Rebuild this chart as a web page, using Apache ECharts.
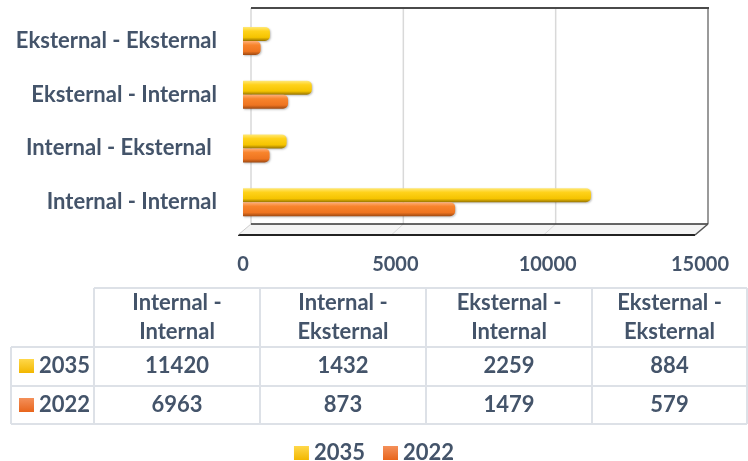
<!DOCTYPE html>
<html>
<head>
<meta charset="utf-8">
<script src="https://cdn.jsdelivr.net/npm/echarts@6/dist/echarts.min.js"></script>
<style>
  html, body { margin: 0; padding: 0; background: #fff; }
  #chart { width: 748px; height: 461px; }
</style>
</head>
<body>
<div id="chart"></div>
<script>
// data
const categories = ['Internal - Internal', 'Internal - Eksternal ', 'Eksternal - Internal', 'Eksternal - Eksternal']
const years = ['2035', '2022']
const values2035 = [11420, 1432, 2259, 884]
const values2022 = [6963, 873, 1479, 579]
const axisMax = 15000
const axisStep = 5000

const textColor = '#44546A'
const font = 'Lato, "Noto Sans", sans-serif'
const lineColor = '#DDE1E7'

// cylinder-ish gradients
const grad = (stops) => new echarts.graphic.LinearGradient(0, 0, 0, 1, stops)
const yellow = grad([
  { offset: 0, color: '#FFE97A' },
  { offset: 0.3, color: '#FFD21A' },
  { offset: 0.75, color: '#F5C400' },
  { offset: 1, color: '#9A7600' },
])
const orange = grad([
  { offset: 0, color: '#FFB07A' },
  { offset: 0.3, color: '#F8842C' },
  { offset: 0.75, color: '#EE7420' },
  { offset: 1, color: '#A04A12' },
])
const yellowKey = grad([{ offset: 0, color: '#FFD84A' }, { offset: 1, color: '#F2B700' }])
const orangeKey = grad([{ offset: 0, color: '#F4905A' }, { offset: 1, color: '#E8651C' }])

const chart = echarts.init(document.getElementById('chart'))

const barSeries = (name, data, color) => ({
  name: name,
  type: 'bar',
  data: data,
  barWidth: 14,
  barGap: '0%',
  itemStyle: {
    color: color,
    borderRadius: [0, 5, 5, 0],
    shadowColor: 'rgba(0,0,0,0.25)',
    shadowBlur: 2,
    shadowOffsetX: 1,
    shadowOffsetY: 1,
  },
  z: 3,
})

chart.setOption({
  animation: false,
  textStyle: { fontFamily: font },
  grid: { left: 243, right: 48, top: 14, bottom: 232 },
  legend: {
    data: [
      { name: '2035', itemStyle: { color: yellowKey } },
      { name: '2022', itemStyle: { color: orangeKey } },
    ],
    top: 437,
    left: 'center',
    icon: 'rect',
    itemWidth: 15,
    itemHeight: 14,
    itemGap: 18,
    textStyle: { fontSize: 22, fontWeight: 'bold', color: textColor, fontFamily: font },
  },
  xAxis: {
    type: 'value',
    min: 0,
    max: axisMax,
    interval: axisStep,
    axisLine: { show: false },
    axisTick: { show: false },
    splitLine: { show: false },
    axisLabel: {
      fontSize: 20,
      fontWeight: 'bold',
      color: textColor,
      margin: 26,
      fontFamily: font,
      formatter: (v) => String(v),
    },
  },
  yAxis: {
    type: 'category',
    data: categories,
    axisLine: { show: false },
    axisTick: { show: false },
    axisLabel: { fontSize: 22, fontWeight: 'bold', color: textColor, margin: 26, fontFamily: font },
  },
  series: [
    barSeries('2035', values2035, yellow),
    barSeries('2022', values2022, orange),
  ],
})

// 3D frame + data table drawn as graphics
function buildGraphics() {
  const g = []
  const dx = 8, dy = -11
  const x0 = chart.convertToPixel({ xAxisIndex: 0 }, 0)
  const xMax = chart.convertToPixel({ xAxisIndex: 0 }, axisMax)
  const floorY = 235
  const backFloor = floorY + dy
  const top = 8

  // back wall gridlines
  for (let v = 0; v <= axisMax; v += axisStep) {
    const bx = chart.convertToPixel({ xAxisIndex: 0 }, v) + dx
    const color = v === axisMax ? '#9A9A9A' : '#D9D9D9'
    g.push({ type: 'line', shape: { x1: bx, y1: top, x2: bx, y2: backFloor }, style: { stroke: color, lineWidth: v === axisMax ? 2 : 1.5 }, z: 1 })
    if (v > 0 && v < axisMax) {
      const fx = bx - dx - 4
      g.push({ type: 'line', shape: { x1: bx, y1: backFloor, x2: fx, y2: floorY }, style: { stroke: '#D9D9D9', lineWidth: 1 }, z: 1 })
    }
  }
  // top border
  g.push({ type: 'line', shape: { x1: x0 + dx, y1: top, x2: xMax + dx + 1, y2: top }, style: { stroke: '#4A4A4A', lineWidth: 2 }, z: 2 })
  // floor
  g.push({
    type: 'polygon',
    shape: { points: [[x0 - 5, floorY], [x0 + dx, backFloor], [xMax + dx, backFloor], [xMax - 5, floorY]] },
    style: { fill: '#F4F4F4', stroke: null },
    z: 0,
  })
  g.push({ type: 'line', shape: { x1: x0 + dx, y1: backFloor, x2: xMax + dx, y2: backFloor }, style: { stroke: '#333', lineWidth: 1.5 }, z: 1 })
  g.push({ type: 'line', shape: { x1: x0 - 5, y1: floorY, x2: xMax - 5, y2: floorY }, style: { stroke: '#222', lineWidth: 2 }, z: 1 })
  g.push({ type: 'line', shape: { x1: xMax - 5, y1: floorY, x2: xMax + dx, y2: backFloor }, style: { stroke: '#555', lineWidth: 1.5 }, z: 1 })
  g.push({ type: 'line', shape: { x1: x0 - 5, y1: floorY, x2: x0 + dx, y2: backFloor }, style: { stroke: '#CCC', lineWidth: 1 }, z: 1 })

  // table
  const colX = [11, 94, 260, 426, 592, 747]
  const rowY = [288, 347, 386, 424]
  const tStyle = { stroke: lineColor, lineWidth: 2 }
  // horizontal lines
  g.push({ type: 'line', shape: { x1: colX[1], y1: rowY[0], x2: colX[5], y2: rowY[0] }, style: tStyle })
  for (let i = 1; i < rowY.length; i++) {
    g.push({ type: 'line', shape: { x1: colX[0], y1: rowY[i], x2: colX[5], y2: rowY[i] }, style: tStyle })
  }
  // vertical lines
  g.push({ type: 'line', shape: { x1: colX[0], y1: rowY[1], x2: colX[0], y2: rowY[3] }, style: tStyle })
  for (let i = 1; i < colX.length; i++) {
    g.push({ type: 'line', shape: { x1: colX[i], y1: rowY[0], x2: colX[i], y2: rowY[3] }, style: tStyle })
  }
  const cellText = (text, x, y, align) => ({
    type: 'text',
    x: x, y: y,
    style: { text: text, fill: textColor, font: 'bold 22px ' + font, align: align || 'center', verticalAlign: 'middle' },
  })
  categories.forEach((c, i) => {
    const cx = (colX[i + 1] + colX[i + 2]) / 2
    const parts = c.trim().split(' - ')
    g.push(cellText(parts[0] + ' -', cx, 303))
    g.push(cellText(parts[1], cx, 332))
    g.push(cellText(String(values2035[i]), cx, 366))
    g.push(cellText(String(values2022[i]), cx, 405))
  })
  const rowKeys = [
    { name: years[0], color: yellowKey, y: 366 },
    { name: years[1], color: orangeKey, y: 405 },
  ]
  rowKeys.forEach((r) => {
    g.push({ type: 'rect', shape: { x: 19, y: r.y - 7, width: 15, height: 14 }, style: { fill: r.color } })
    g.push(cellText(r.name, 39, r.y, 'left'))
  })
  chart.setOption({ graphic: { elements: g } })
}
buildGraphics()
</script>
</body>
</html>
